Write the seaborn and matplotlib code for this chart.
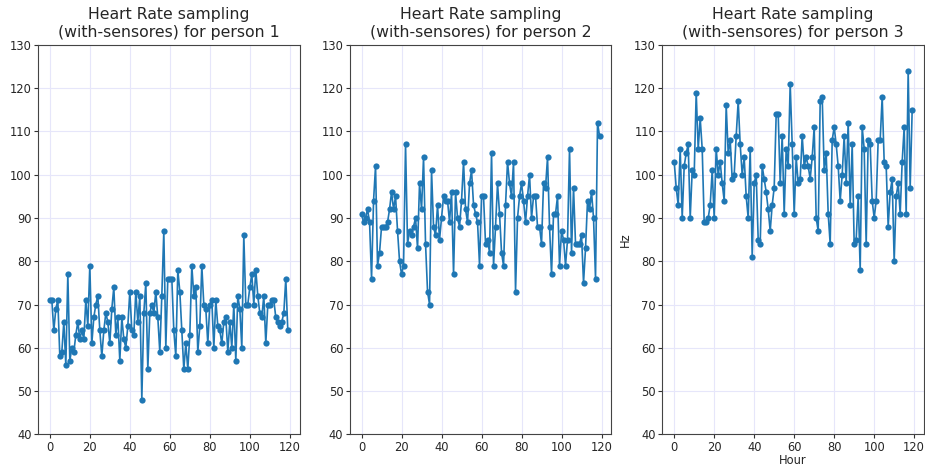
import numpy as np
import pandas as pd
import matplotlib
matplotlib.use("Agg")
import matplotlib.pyplot as plt
import seaborn as sns

# Heart-rate samples (one reading per hour) for each person
person_1 = [71, 71, 64, 69, 71, 58, 59, 66, 56, 77, 57, 60, 59, 63, 66, 62, 64, 62, 71, 65,
            79, 61, 67, 70, 72, 64, 58, 64, 68, 66, 61, 69, 74, 63, 67, 57, 67, 62, 60, 65,
            73, 64, 63, 73, 66, 72, 48, 68, 75, 55, 68, 70, 68, 73, 67, 59, 72, 87, 60, 76,
            76, 76, 64, 58, 78, 73, 64, 55, 61, 55, 63, 79, 72, 74, 59, 65, 79, 70, 69, 61,
            70, 71, 60, 71, 65, 64, 61, 66, 67, 59, 66, 60, 70, 57, 72, 69, 60, 86, 70, 70,
            74, 77, 70, 78, 72, 68, 67, 72, 61, 70, 70, 71, 71, 67, 66, 65, 66, 68, 76, 64]

person_2 = [91, 89, 90, 92, 89, 76, 94, 102, 79, 82, 88, 88, 88, 89, 92, 96, 92, 95, 87, 80,
            77, 79, 107, 84, 87, 86, 88, 90, 83, 98, 92, 104, 84, 73, 70, 101, 88, 86, 93, 85,
            90, 95, 94, 94, 89, 96, 77, 96, 90, 88, 94, 103, 92, 89, 98, 101, 93, 91, 89, 79,
            95, 95, 84, 85, 82, 105, 79, 88, 98, 91, 82, 79, 93, 103, 98, 95, 103, 73, 90, 95,
            98, 94, 89, 95, 100, 90, 95, 95, 88, 88, 84, 98, 97, 104, 88, 77, 91, 91, 95, 79,
            87, 85, 79, 85, 106, 82, 97, 84, 84, 84, 86, 75, 83, 94, 92, 96, 90, 76, 112, 109]

person_3 = [103, 97, 93, 106, 90, 102, 105, 107, 90, 101, 100, 119, 106, 113, 106, 89, 89, 90, 93, 101,
            90, 106, 100, 103, 98, 94, 116, 105, 108, 99, 100, 109, 117, 107, 100, 104, 95, 90, 106, 81,
            98, 100, 85, 84, 102, 99, 96, 92, 87, 93, 97, 114, 114, 98, 109, 91, 106, 102, 121, 107,
            91, 104, 98, 99, 109, 102, 104, 102, 99, 104, 111, 90, 87, 117, 118, 101, 105, 91, 84, 108,
            111, 107, 102, 94, 100, 109, 98, 112, 93, 107, 84, 85, 95, 78, 111, 106, 84, 108, 107, 94,
            90, 94, 108, 108, 118, 103, 102, 88, 96, 99, 80, 95, 98, 91, 103, 111, 91, 124, 97, 115]

series = [person_1, person_2, person_3]
titles = [f"Heart Rate sampling\n(with-sensores) for person {i}" for i in (1, 2, 3)]
y_ticks = list(range(40, 131, 10))
x_ticks = list(range(0, 121, 20))

sns.set_theme(style="white")
plt.rcParams["font.family"] = ["DejaVu Sans"]

fig = plt.figure(figsize=(9.25, 4.68), dpi=100)
lefts = [0.041, 0.378, 0.716]
width, bottom, height = 0.283, 0.072, 0.832

for i, (values, title) in enumerate(zip(series, titles)):
    ax = fig.add_axes([lefts[i], bottom, width, height])
    df = pd.DataFrame({"Hour": np.arange(len(values)), "Hz": values})
    sns.lineplot(data=df, x="Hour", y="Hz", ax=ax, color="#1f77b4",
                 marker="o", markersize=4.5, markeredgewidth=0, linewidth=1.2)
    ax.set_ylim(40, 130)
    ax.set_yticks(y_ticks)
    ax.set_xticks(x_ticks)
    ax.grid(True, color="#e6e6fa", linewidth=0.8)
    ax.set_axisbelow(True)
    ax.set_title(title, fontsize=11.3, pad=6, linespacing=1.2)
    ax.tick_params(axis="both", labelsize=8.3, length=3, width=0.8,
                   color="#333333", bottom=True, left=True, pad=1.5)
    for sp in ax.spines.values():
        sp.set_color("#444444")
        sp.set_linewidth(0.8)
    if i == 2:
        ax.set_xlabel("Hour", fontsize=8.3, labelpad=0)
        ax.set_ylabel("Hz", fontsize=8.3, labelpad=2)
    else:
        ax.set_xlabel("")
        ax.set_ylabel("")

fig.savefig("out.png", dpi=100, facecolor="white")
